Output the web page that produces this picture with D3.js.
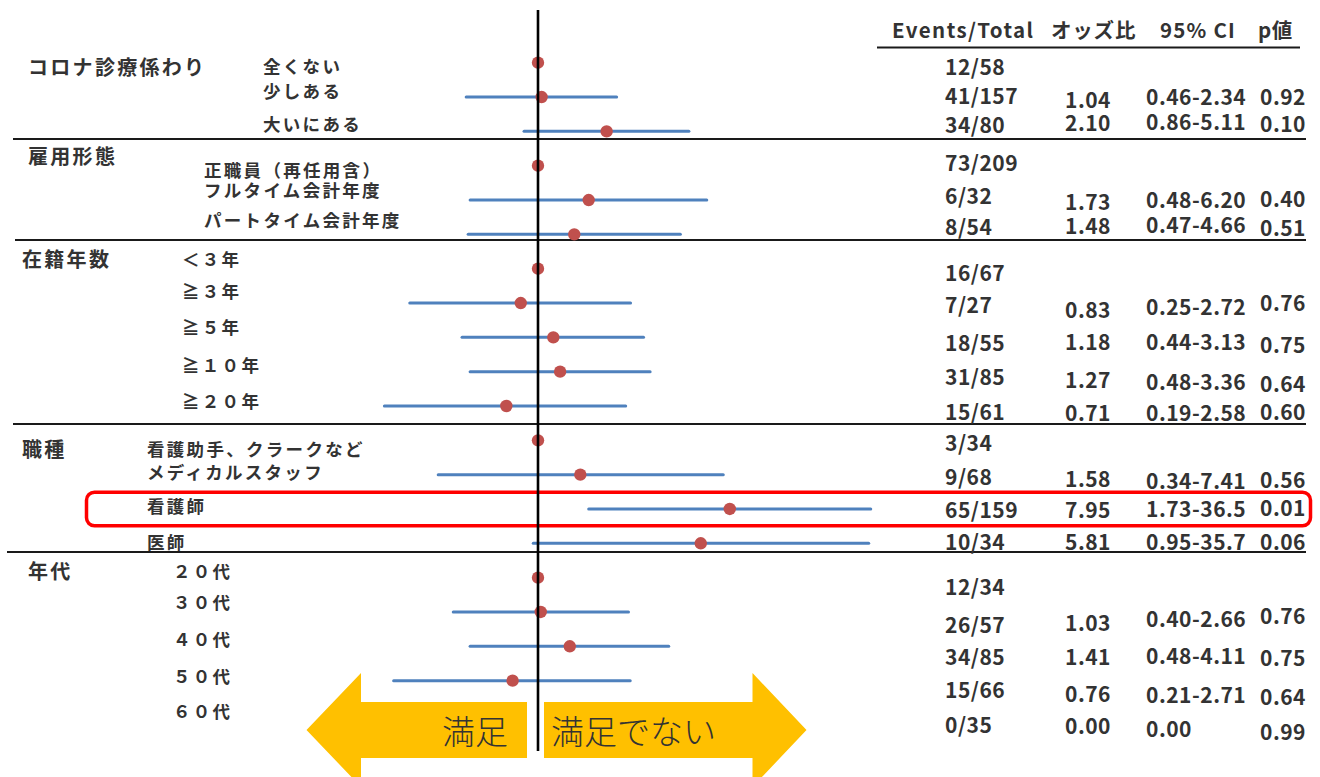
<!DOCTYPE html>
<html lang="ja">
<head>
<meta charset="utf-8">
<script src="https://cdn.jsdelivr.net/npm/d3@7"></script>
<style>
  html, body { margin: 0; padding: 0; background: #fff; }
  svg { display: block; font-family: "Noto Sans CJK JP", "Noto Sans", sans-serif; }
</style>
</head>
<body>
<script>
// ---- data ----
const groupNames = ["コロナ診療係わり", "雇用形態", "在籍年数", "職種", "年代"];
const rowLabels = [
  "全くない", "少しある", "大いにある",
  "正職員（再任用含）", "フルタイム会計年度", "パートタイム会計年度",
  "＜３年", "≧３年", "≧５年", "≧１０年", "≧２０年",
  "看護助手、クラークなど", "メディカルスタッフ", "看護師", "医師",
  "２０代", "３０代", "４０代", "５０代", "６０代"
];
const rowGroup = [0,0,0, 1,1,1, 2,2,2,2,2, 3,3,3,3, 4,4,4,4,4];
const isReference = [true,false,false, true,false,false, true,false,false,false,false,
                     true,false,false,false, true,false,false,false,false];
const eventsTotal = ["12/58","41/157","34/80","73/209","6/32","8/54","16/67","7/27","18/55","31/85",
                     "15/61","3/34","9/68","65/159","10/34","12/34","26/57","34/85","15/66","0/35"];
const oddsRatio = [1, 1.04, 2.10, 1, 1.73, 1.48, 1, 0.83, 1.18, 1.27, 0.71,
                   1, 1.58, 7.95, 5.81, 1, 1.03, 1.41, 0.76, 0];
const ciLower = [null, 0.46, 0.86, null, 0.48, 0.47, null, 0.25, 0.44, 0.48, 0.19,
                 null, 0.34, 1.73, 0.95, null, 0.40, 0.48, 0.21, 0];
const ciUpper = [null, 2.34, 5.11, null, 6.20, 4.66, null, 2.72, 3.13, 3.36, 2.58,
                 null, 7.41, 36.5, 35.7, null, 2.66, 4.11, 2.71, 0];
const pValues = ["", "0.92", "0.10", "", "0.40", "0.51", "", "0.76", "0.75", "0.64", "0.60",
                 "", "0.56", "0.01", "0.06", "", "0.76", "0.75", "0.64", "0.99"];
const highlightRow = 13;
const columnHeaders = ["Events/Total", "オッズ比", "95% CI", "p値"];
const arrowLabels = ["満足", "満足でない"];

// ---- layout ----
const W = 1320, H = 777;
const textColor = "#333";
const groupX = [28, 28, 22, 22, 28];
const groupY = [68, 157, 260, 450, 572];
const subLabelX = [263, 204, 182, 147, 173];
const subLabelY = [67, 92, 125, 171, 191, 221, 260, 292, 328, 366, 402, 450, 473, 507, 543, 572, 603, 640, 677, 712];
const evY = [67, 96, 125, 163, 196, 227, 273, 305, 343, 377, 412, 443, 477, 510, 542, 587, 625, 657, 690, 725];
const orY = [0, 100, 123, 0, 202, 226, 0, 310, 342, 380, 413, 0, 479, 510, 542, 0, 623, 657, 694, 726];
const ciY = [0, 97, 122, 0, 200, 225, 0, 307, 342, 382, 413, 0, 481, 509, 542, 0, 619, 656, 695, 729];
const pY  = [0, 97, 124, 0, 199, 228, 0, 303, 345, 384, 412, 0, 480, 508, 542, 0, 616, 658, 697, 732];
const colX = { events: 945, or: 1065, ci: 1146, p: 1260 };
const headerX = [892, 1051, 1160, 1258];
const separatorY = [139, 240, 424, 552];
const separatorX0 = [13, 15, 13, 7];

const svg = d3.select("body").append("svg")
  .attr("width", W).attr("height", H)
  .attr("viewBox", `0 0 ${W} ${H}`);

// log-scaled odds ratio axis, 1.0 sits on the vertical reference line
const x = d3.scaleLog().domain([1, 10]).range([538, 751]);
const y = d3.scaleLinear().domain([0, rowLabels.length - 1]).range([62.7, 62.7 + 19 * 34.33]);

// baseline from a visual center
const base = (cy, fs) => cy + fs * 0.36;

// ---- separators ----
svg.append("g").selectAll("line").data(separatorY).join("line")
  .attr("x1", (d, i) => separatorX0[i]).attr("x2", 1306)
  .attr("y1", d => d).attr("y2", d => d)
  .attr("stroke", "#1a1a1a").attr("stroke-width", 2);

svg.append("line")
  .attr("x1", 877).attr("x2", 1300).attr("y1", 47.5).attr("y2", 47.5)
  .attr("stroke", "#1a1a1a").attr("stroke-width", 2);

// ---- table header ----
const headerSpacing = [1.4, 0.8, 1.2, 0.5];
svg.append("g").selectAll("text").data(columnHeaders).join("text")
  .attr("x", (d, i) => headerX[i]).attr("y", base(31, 20.5))
  .attr("font-size", 20.5).attr("font-weight", 700).attr("fill", textColor)
  .attr("letter-spacing", (d, i) => headerSpacing[i])
  .text(d => d);

// ---- left labels ----
svg.append("g").selectAll("text").data(groupNames).join("text")
  .attr("x", (d, i) => groupX[i]).attr("y", (d, i) => base(groupY[i], 20))
  .attr("font-size", 20).attr("font-weight", 700).attr("letter-spacing", 2.3)
  .attr("fill", textColor).text(d => d);

svg.append("g").selectAll("text").data(rowLabels).join("text")
  .attr("x", (d, i) => subLabelX[rowGroup[i]]).attr("y", (d, i) => base(subLabelY[i], 17.5))
  .attr("font-size", 17.5).attr("font-weight", 700).attr("letter-spacing", 2.3)
  .attr("fill", textColor).text(d => d);

// ---- table body ----
const fmtCI = v => v >= 10 ? v.toFixed(1) : v.toFixed(2);
const table = svg.append("g").attr("font-size", 21).attr("font-weight", 700)
  .attr("letter-spacing", 0.5).attr("fill", textColor);
const idx = d3.range(rowLabels.length);

table.selectAll("text.ev").data(idx).join("text").attr("class", "ev")
  .attr("x", colX.events).attr("y", i => base(evY[i], 21)).text(i => eventsTotal[i]);

const nonRef = idx.filter(i => !isReference[i]);
table.selectAll("text.or").data(nonRef).join("text").attr("class", "or")
  .attr("x", colX.or).attr("y", i => base(orY[i], 21)).text(i => oddsRatio[i].toFixed(2));
table.selectAll("text.ci").data(nonRef).join("text").attr("class", "ci")
  .attr("x", colX.ci).attr("y", i => base(ciY[i], 21))
  .text(i => ciLower[i] === ciUpper[i] ? fmtCI(ciLower[i]) : `${fmtCI(ciLower[i])}-${fmtCI(ciUpper[i])}`);
table.selectAll("text.p").data(nonRef).join("text").attr("class", "p")
  .attr("x", colX.p).attr("y", i => base(pY[i], 21)).text(i => pValues[i]);

// ---- confidence intervals and point estimates ----
const plotted = idx.filter(i => oddsRatio[i] > 0);
svg.append("g").selectAll("line").data(plotted.filter(i => !isReference[i])).join("line")
  .attr("x1", i => x(ciLower[i])).attr("x2", i => x(ciUpper[i]))
  .attr("y1", i => y(i)).attr("y2", i => y(i))
  .attr("stroke", "#4F81BD").attr("stroke-width", 3).attr("stroke-linecap", "round");

svg.append("g").selectAll("circle").data(plotted).join("circle")
  .attr("cx", i => x(oddsRatio[i])).attr("cy", i => y(i)).attr("r", 6.2)
  .attr("fill", "#C0504D");

// ---- highlighted row ----
svg.append("rect")
  .attr("x", 86.5).attr("y", y(highlightRow) - 16.8)
  .attr("width", 1224).attr("height", 33.6)
  .attr("rx", 8).attr("ry", 8)
  .attr("fill", "none").attr("stroke", "#FF0000").attr("stroke-width", 3.5);

// ---- direction arrows ----
const ay = 730, shaftH = 28, headH = 57;
const leftArrow = [[306.5, ay], [361, ay - headH], [361, ay - shaftH], [527, ay - shaftH],
                   [527, ay + shaftH], [361, ay + shaftH], [361, ay + headH]];
const rightArrow = [[806.5, ay], [752.5, ay - headH], [752.5, ay - shaftH], [544, ay - shaftH],
                    [544, ay + shaftH], [752.5, ay + shaftH], [752.5, ay + headH]];
svg.append("g").selectAll("polygon").data([leftArrow, rightArrow]).join("polygon")
  .attr("points", d => d.map(p => p.join(",")).join(" "))
  .attr("fill", "#FFC000");

svg.append("g").selectAll("text").data(arrowLabels).join("text")
  .attr("x", (d, i) => i === 0 ? 442 : 551)
  .attr("y", base(732, 33))
  .attr("font-size", 33).attr("font-weight", 300).attr("fill", "#333")
  .text(d => d);

// ---- reference line at OR = 1 ----
svg.append("line")
  .attr("x1", x(1)).attr("x2", x(1)).attr("y1", 10).attr("y2", 751)
  .attr("stroke", "#000").attr("stroke-width", 2.6);
</script>
</body>
</html>
